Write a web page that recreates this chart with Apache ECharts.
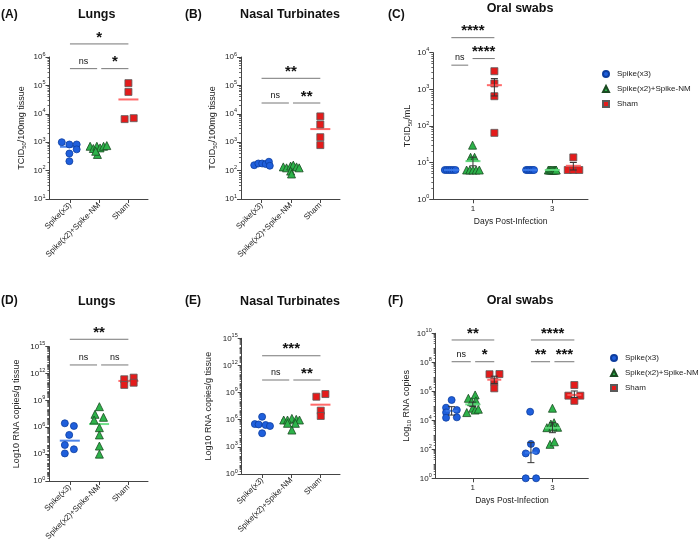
<!DOCTYPE html>
<html><head><meta charset="utf-8">
<script src="https://cdn.jsdelivr.net/npm/echarts@6/dist/echarts.min.js"></script>
<style>html,body{margin:0;padding:0;background:#fff}#c{width:700px;height:548px}</style>
</head><body><div id="c"></div><script>
// ---------------- DATA ----------------
const groups = ['Spike(x3)', 'Spike(x2)+Spike-NM', 'Sham'];
const catTicks = [1, 2, 3];
const dayTicks = [1, 3];

// (A) Lungs, TCID50/100mg tissue
const aBlueX = [0.72, 0.98, 1.23, 1.23, 0.98, 0.98];
const aBlueY = [1000, 830, 830, 560, 400, 215];
const aGreenX = [1.69, 1.8, 1.92, 1.94, 2.03, 2.15, 2.26, 1.88];
const aGreenY = [720, 600, 720, 370, 630, 720, 760, 480];
const aRedX = [3.0, 3.0, 2.87, 3.18];
const aRedY = [120000, 59000, 6500, 7000];
const aMedian = [690, 620, 32000];
const aBrackets = [[1, 3, Math.pow(10, 6.46), '*'], [1, 1.93, Math.pow(10, 5.59), 'ns'], [2.07, 3, Math.pow(10, 5.59), '*']];

// (B) Nasal turbinates, TCID50/100mg tissue
const bBlueX = [0.75, 0.89, 1.02, 1.14, 1.25, 1.28];
const bBlueY = [155, 178, 178, 170, 205, 148];
const bGreenX = [1.74, 1.85, 1.99, 2.08, 2.19, 2.28, 1.99, 2.02];
const bGreenY = [135, 125, 145, 156, 135, 125, 96, 76];
const bRedX = [3, 3, 3, 3];
const bRedY = [8100, 4200, 1500, 790];
const bMedian = [170, 130, 2900];
const bBrackets = [[1, 3, Math.pow(10, 5.25), '**'], [1, 1.93, Math.pow(10, 4.38), 'ns'], [2.07, 3, Math.pow(10, 4.38), '**']];

// (C) Oral swabs, TCID50/mL (day 1 and day 3)
const cBlueX = [0.29, 0.345, 0.4, 0.45, 0.505, 0.56, 2.34, 2.38, 2.42, 2.46, 2.5, 2.54];
const cBlueY = [6.3, 6.3, 6.3, 6.3, 6.3, 6.3, 6.3, 6.3, 6.3, 6.3, 6.3, 6.3];
const cGreenX = [0.99, 0.94, 1.04, 0.84, 0.92, 1.0, 1.08, 1.16, 2.9, 2.93, 2.96, 2.99, 3.02, 3.05, 3.08, 3.1];
const cGreenY = [30, 14, 14, 6.3, 6.3, 6.3, 6.3, 6.3, 6.3, 6.3, 6.3, 6.3, 6.3, 6.3, 6.3, 6.3];
const cRedX = [1.54, 1.54, 1.54, 1.54, 3.39, 3.53, 3.68, 3.53];
const cRedY = [3130, 1450, 650, 65, 6.3, 6.3, 6.3, 13.9];
const cBlueMean = [6.3, 6.3], cBlueLo = [6.3, 6.3], cBlueHi = [6.3, 6.3];
const cGreenMean = [11, 6.3], cGreenLo = [8.2, 6.3], cGreenHi = [14.1, 6.3];
const cRedMean = [1300, 8.2], cRedLo = [660, 6.3], cRedHi = [1970, 10.1];
const cBlueCenter = [0.455, 2.44], cGreenCenter = [1.0, 3.0], cRedCenter = [1.54, 3.53];
const cBrackets = [[0.455, 1.54, Math.pow(10, 4.41), '****'], [0.455, 0.88, Math.pow(10, 3.66), 'ns'], [0.99, 1.55, Math.pow(10, 3.84), '****']];

// (D) Lungs, RNA copies/g tissue
const dBlueX = [0.83, 1.14, 0.98, 0.83, 1.14, 0.83];
const dBlueY = [2.8e6, 1.4e6, 1.4e5, 1.05e4, 3.5e3, 1.2e3];
const dGreenX = [2.01, 1.86, 2.15, 1.83, 2.01, 2.01, 2.01, 2.01];
const dGreenY = [2e8, 2.8e7, 1.3e7, 6.4e6, 9e5, 1.4e5, 8e3, 1e3];
const dRedX = [2.86, 2.86, 3.18, 3.18];
const dRedY = [2.3e11, 5.4e10, 3.5e11, 9.5e10];
const dMedian = [3.2e4, 2.3e6, 1.5e11];
const dBrackets = [[1, 3, Math.pow(10, 15.83), '**'], [1, 1.93, Math.pow(10, 12.96), 'ns'], [2.07, 3, Math.pow(10, 12.96), 'ns']];

// (E) Nasal turbinates, RNA copies/g tissue
const eBlueX = [1.0, 0.75, 0.88, 1.12, 1.27, 1.0];
const eBlueY = [2.1e6, 3.3e5, 3.0e5, 2.6e5, 2.0e5, 3.2e4];
const eGreenX = [1.74, 2.02, 2.17, 2.28, 1.87, 1.87, 2.14, 2.02];
const eGreenY = [9.3e5, 1.4e6, 1.1e6, 9.3e5, 9.3e5, 4e5, 4e5, 7.2e4];
const eRedX = [2.86, 3.17, 3.01, 3.01];
const eRedY = [3.5e8, 6.9e8, 1e7, 2.6e6];
const eMedian = [2.8e5, 9.3e5, 4.6e7];
const eBrackets = [[1, 3, Math.pow(10, 13.07), '***'], [1, 1.93, Math.pow(10, 10.39), 'ns'], [2.07, 3, Math.pow(10, 10.39), '**']];

// (F) Oral swabs, Log10 RNA copies (day 1 and day 3)
const fBlueX = [0.47, 0.33, 0.33, 0.6, 0.33, 0.6, 2.44, 2.46, 2.33, 2.59, 2.33, 2.59];
const fBlueY = [2.5e5, 7.4e4, 3.5e4, 5.1e4, 1.5e4, 1.6e4, 3.9e4, 234, 52, 76, 1, 1];
const fGreenX = [0.89, 1.06, 0.97, 1.08, 0.85, 1.0, 1.06, 1.14, 3.0, 2.86, 2.96, 3.04, 3.13, 3.01, 2.94, 3.05];
const fGreenY = [3.3e5, 5.6e5, 1.9e5, 2.2e5, 3.4e4, 6.8e4, 5.1e4, 5.8e4, 6.8e4, 3.1e3, 5.5e3, 6.8e3, 3.3e3, 3.6e3, 220, 330];
const fRedX = [1.42, 1.67, 1.54, 1.54, 3.55, 3.4, 3.7, 3.55];
const fRedY = [1.5e7, 1.55e7, 4.6e6, 1.6e6, 2.7e6, 5e5, 5e5, 2.2e5];
const fBlueMean = [4.5e4, 59], fBlueLo = [2.3e4, 12], fBlueHi = [8.7e4, 288];
const fGreenMean = [1.26e5, 3e3], fGreenLo = [8.8e4, 1.4e3], fGreenHi = [1.8e5, 6.8e3];
const fRedMean = [6.3e6, 5.6e5], fRedLo = [3.5e6, 3.7e5], fRedHi = [1.1e7, 1.05e6];
const fBlueCenter = [0.47, 2.46], fGreenCenter = [1.0, 3.0], fRedCenter = [1.54, 3.55];
const fBrackets = [[0.47, 1.54, Math.pow(10, 9.54), '**'], [0.47, 0.95, Math.pow(10, 8.04), 'ns'], [1.06, 1.54, Math.pow(10, 8.04), '*'],
                   [2.46, 3.55, Math.pow(10, 9.54), '****'], [2.46, 2.94, Math.pow(10, 8.04), '**'], [3.05, 3.55, Math.pow(10, 8.04), '***']];

// ---------------- STYLE / LAYOUT ----------------
const FONT = 'Liberation Sans';
const BLUE = '#1f5fdc', GREEN = '#2db34a', RED = '#e41b1b';
const BLUE_L = '#3a78e8', GREEN_L = '#62dd7e', RED_L = '#ff5a5a';
const AX = '#444';

const panels = [
  {grid: {left: 49.5, top: 57, width: 98.5, height: 142}, xr: [0.3, 3.67], ylog: [1, 6], step: 1, name: 'TCID{sub|50}/100mg tissue', gap: 22, cat: true},
  {grid: {left: 241, top: 57, width: 99, height: 142}, xr: [0.3, 3.67], ylog: [1, 6], step: 1, name: 'TCID{sub|50}/100mg tissue', gap: 22, cat: true},
  {grid: {left: 433.3, top: 52.7, width: 154.7, height: 146.6}, xr: [0, 3.9], ylog: [0, 4], step: 1, name: 'TCID{sub|50}/mL', gap: 18, cat: false},
  {grid: {left: 49.3, top: 346.7, width: 98.7, height: 134.3}, xr: [0.3, 3.67], ylog: [0, 15], step: 3, name: 'Log10 RNA copies/g tissue', gap: 27, cat: true},
  {grid: {left: 241.7, top: 338.3, width: 98.3, height: 135.7}, xr: [0.3, 3.67], ylog: [0, 15], step: 3, name: 'Log10 RNA copies/g tissue', gap: 27, cat: true},
  {grid: {left: 435.7, top: 333.3, width: 152.6, height: 145}, xr: [0.07, 3.9], ylog: [0, 10], step: 2, name: 'Log{sub|10} RNA copies', gap: 20, cat: false}
];

function minorTicks(lo, hi, step) {
  const out = [];
  for (let e = lo; e < hi; e++) {
    for (let k = 1; k <= 9; k++) {
      if (k === 1 && (e - lo) % step === 0) continue;
      out.push(e + Math.log10(k));
    }
  }
  return out;
}

const grid = [], xAxis = [], yAxis = [];
panels.forEach((p, i) => {
  grid.push(Object.assign({containLabel: false, outerBoundsMode: 'none'}, p.grid));
  xAxis.push({
    type: 'value', gridIndex: i, min: p.xr[0], max: p.xr[1],
    axisLine: {show: true, onZero: false, lineStyle: {color: AX, width: 1}},
    axisTick: {show: true, customValues: p.cat ? catTicks : dayTicks, length: 4, lineStyle: {color: AX}},
    axisLabel: p.cat ? {
      customValues: catTicks, rotate: 45, margin: 5, fontSize: 8, color: '#222', fontFamily: FONT,
      formatter: v => groups[Math.round(v) - 1]
    } : {customValues: dayTicks, margin: 5, fontSize: 8, color: '#222', fontFamily: FONT, formatter: v => String(Math.round(v))},
    splitLine: {show: false},
    name: p.cat ? '' : 'Days Post-Infection', nameLocation: 'middle', nameGap: 18,
    nameTextStyle: {fontSize: 8.5, color: '#222', fontFamily: FONT}
  });
  yAxis.push({
    type: 'log', logBase: 10, gridIndex: i, min: Math.pow(10, p.ylog[0]), max: Math.pow(10, p.ylog[1]), interval: p.step,
    axisLine: {show: true, onZero: false, lineStyle: {color: AX, width: 1}},
    axisTick: {show: true, length: 4, lineStyle: {color: AX}},
    axisLabel: {
      margin: 4, showMinLabel: true, showMaxLabel: true,
      formatter: v => '{b|10}{s|' + Math.round(Math.log10(v)) + '}',
      rich: {
        b: {fontSize: 8, color: '#222', fontFamily: FONT, lineHeight: 12},
        s: {fontSize: 5.5, color: '#222', fontFamily: FONT, lineHeight: 7, padding: [0, 0, 6, 0]}
      }
    },
    splitLine: {show: false},
    name: p.name, nameLocation: 'middle', nameGap: p.gap,
    nameTextStyle: {
      fontSize: 9, color: '#222', fontFamily: FONT, lineHeight: 12,
      rich: {sub: {fontSize: 6, color: '#222', fontFamily: FONT, lineHeight: 7, padding: [5, 0, 0, 0]}}
    }
  });
});
// minor log ticks (decoration axes sharing the same grid)
panels.forEach((p, i) => {
  yAxis.push({
    type: 'value', gridIndex: i, min: p.ylog[0], max: p.ylog[1], position: 'left', offset: 0,
    axisLine: {show: false}, axisLabel: {show: false}, splitLine: {show: false},
    axisTick: {show: true, length: 2, customValues: minorTicks(p.ylog[0], p.ylog[1], p.step), lineStyle: {color: AX, width: 0.8}}
  });
});

const symbolDefs = [
  {name: groups[0], symbol: 'circle', size: 7, color: BLUE, border: '#0d3d9e'},
  {name: groups[1], symbol: 'triangle', size: 8, color: GREEN, border: '#1b4a22'},
  {name: groups[2], symbol: 'rect', size: 7, color: RED, border: '#5a5a5a'}
];

const series = [];
function addScatter(idx, g, xs, ys) {
  const s = symbolDefs[g];
  series.push({
    type: 'scatter', name: s.name, xAxisIndex: idx, yAxisIndex: idx,
    data: xs.map((x, k) => [x, ys[k]]),
    symbol: s.symbol, symbolSize: s.size, clip: false, z: 3, silent: true,
    itemStyle: {color: s.color, borderColor: s.border, borderWidth: 0.8, opacity: 1},
    emphasis: {disabled: true}
  });
}
function addCenterLines(idx, centers, means, los, his, color, halfW, z) {
  series.push({
    type: 'custom', xAxisIndex: idx, yAxisIndex: idx, clip: false, z: z, silent: true,
    data: centers.map((c, k) => [c, means[k], los ? los[k] : means[k], his ? his[k] : means[k]]),
    encode: {x: 0, y: [1, 2, 3]},
    renderItem: (params, api) => {
      const x = api.value(0);
      const pm = api.coord([x, api.value(1)]);
      const pl = api.coord([x, api.value(2)]);
      const ph = api.coord([x, api.value(3)]);
      const ch = [{type: 'line', shape: {x1: pm[0] - halfW, y1: pm[1], x2: pm[0] + halfW, y2: pm[1]},
                   style: {stroke: color, lineWidth: 2, opacity: 0.9}}];
      if (pl[1] - ph[1] > 0.5) {
        const es = {stroke: '#333', lineWidth: 1};
        ch.push({type: 'line', shape: {x1: pm[0], y1: ph[1], x2: pm[0], y2: pl[1]}, style: es});
        ch.push({type: 'line', shape: {x1: pm[0] - 3.5, y1: ph[1], x2: pm[0] + 3.5, y2: ph[1]}, style: es});
        ch.push({type: 'line', shape: {x1: pm[0] - 3.5, y1: pl[1], x2: pm[0] + 3.5, y2: pl[1]}, style: es});
      }
      return {type: 'group', children: ch};
    }
  });
}
function addMedians(idx, med) {
  addCenterLines(idx, [1], [med[0]], null, null, BLUE_L, 10, 2);
  addCenterLines(idx, [2], [med[1]], null, null, GREEN_L, 10, 2);
  addCenterLines(idx, [3], [med[2]], null, null, RED_L, 10, 2);
}
function addBrackets(idx, br) {
  series.push({
    type: 'custom', xAxisIndex: idx, yAxisIndex: idx, clip: false, z: 5, silent: true,
    data: br.map(b => [b[0], b[1], b[2]]),
    encode: {x: [0, 1], y: 2},
    renderItem: (params, api) => {
      const b = br[params.dataIndex];
      const p1 = api.coord([b[0], b[2]]);
      const p2 = api.coord([b[1], b[2]]);
      const isNs = b[3] === 'ns';
      const mx = (p1[0] + p2[0]) / 2;
      return {type: 'group', children: [
        {type: 'line', shape: {x1: p1[0], y1: p1[1], x2: p2[0], y2: p2[1]}, style: {stroke: '#777', lineWidth: 1}},
        {type: 'text', x: mx, y: isNs ? p1[1] - 3 : p1[1] + 1,
         style: {text: b[3], textAlign: 'center', textVerticalAlign: 'bottom', fill: '#111',
                 font: isNs ? '9px "Liberation Sans"' : 'bold 15px "Liberation Sans"'}}
      ]};
    }
  });
}

// A
addMedians(0, aMedian);
addScatter(0, 0, aBlueX, aBlueY); addScatter(0, 1, aGreenX, aGreenY); addScatter(0, 2, aRedX, aRedY);
addBrackets(0, aBrackets);
// B
addMedians(1, bMedian);
addScatter(1, 0, bBlueX, bBlueY); addScatter(1, 1, bGreenX, bGreenY); addScatter(1, 2, bRedX, bRedY);
addBrackets(1, bBrackets);
// C
addScatter(2, 0, cBlueX, cBlueY); addScatter(2, 1, cGreenX, cGreenY); addScatter(2, 2, cRedX, cRedY);
addCenterLines(2, cBlueCenter, cBlueMean, cBlueLo, cBlueHi, BLUE_L, 7.5, 4);
addCenterLines(2, cGreenCenter, cGreenMean, cGreenLo, cGreenHi, GREEN_L, 7.5, 4);
addCenterLines(2, cRedCenter, cRedMean, cRedLo, cRedHi, RED_L, 7.5, 4);
addBrackets(2, cBrackets);
// D
addMedians(3, dMedian);
addScatter(3, 0, dBlueX, dBlueY); addScatter(3, 1, dGreenX, dGreenY); addScatter(3, 2, dRedX, dRedY);
addBrackets(3, dBrackets);
// E
addMedians(4, eMedian);
addScatter(4, 0, eBlueX, eBlueY); addScatter(4, 1, eGreenX, eGreenY); addScatter(4, 2, eRedX, eRedY);
addBrackets(4, eBrackets);
// F
addScatter(5, 0, fBlueX, fBlueY); addScatter(5, 1, fGreenX, fGreenY); addScatter(5, 2, fRedX, fRedY);
addCenterLines(5, fBlueCenter, fBlueMean, fBlueLo, fBlueHi, BLUE_L, 6, 4);
addCenterLines(5, fGreenCenter, fGreenMean, fGreenLo, fGreenHi, GREEN_L, 7.5, 4);
addCenterLines(5, fRedCenter, fRedMean, fRedLo, fRedHi, RED_L, 7, 4);
addBrackets(5, fBrackets);

const legendData = [{name: groups[0], icon: 'circle'}, {name: groups[1], icon: 'triangle'}, {name: groups[2], icon: 'rect'}];
function legendAt(left, top) {
  return {data: legendData, orient: 'vertical', left: left, top: top, padding: 0, itemWidth: 6, itemHeight: 6, itemGap: 5,
          selectedMode: false, textStyle: {fontSize: 8, color: '#222', fontFamily: FONT, lineHeight: 10, padding: [0, 0, 0, 3]}};
}

function title(text, x, y, size, center) {
  return {text: text, left: x, top: y, padding: 0, textAlign: center ? 'center' : 'left',
          textStyle: {fontSize: size, fontWeight: 'bold', color: '#111', fontFamily: FONT}};
}

const option = {
  animation: false,
  backgroundColor: '#fff',
  textStyle: {fontFamily: FONT},
  title: [
    title('(A)', 1, 8.5, 12, false), title('Lungs', 96.7, 8, 12.5, true),
    title('(B)', 185, 8.5, 12, false), title('Nasal Turbinates', 290, 8, 12.5, true),
    title('(C)', 388, 8.5, 12, false), title('Oral swabs', 520, 2, 12.5, true),
    title('(D)', 1, 295, 12, false), title('Lungs', 96.7, 295, 12.5, true),
    title('(E)', 185, 295, 12, false), title('Nasal Turbinates', 290, 295, 12.5, true),
    title('(F)', 388, 295, 12, false), title('Oral swabs', 520, 294.5, 12.5, true)
  ],
  legend: [legendAt(602, 69), legendAt(610, 353)],
  grid: grid, xAxis: xAxis, yAxis: yAxis, series: series
};

const chart = echarts.init(document.getElementById('c'), null, {renderer: 'canvas', width: 700, height: 548});
chart.setOption(option);
</script></body></html>
